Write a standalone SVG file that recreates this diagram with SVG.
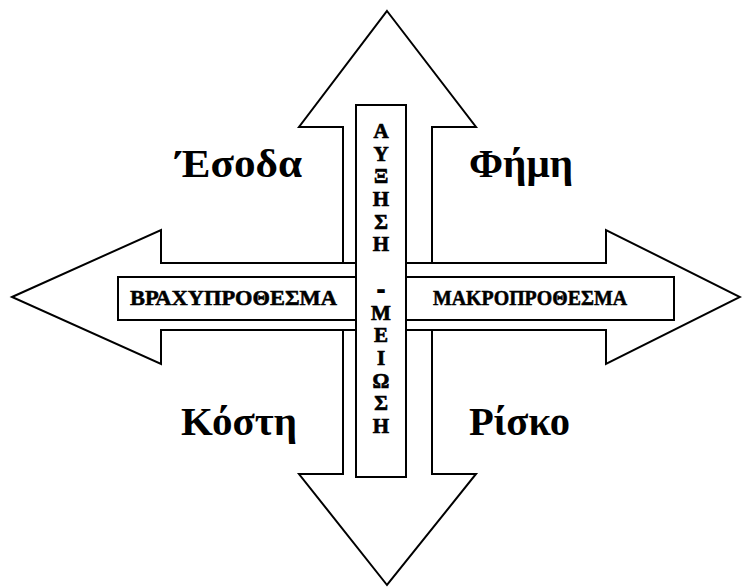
<svg xmlns="http://www.w3.org/2000/svg" width="742" height="587" viewBox="0 0 742 587">
<style>
.shape{fill:#fff;stroke:#000;stroke-width:2;stroke-linejoin:miter}
.big{font-family:"Liberation Serif","Times New Roman",serif;font-weight:bold;font-size:40px;fill:#000}
.small{font-family:"Liberation Serif","Times New Roman",serif;font-weight:bold;font-size:20px;fill:#000;stroke:#000;stroke-width:0.5}
.vert{font-family:"Liberation Serif","Times New Roman",serif;font-weight:bold;font-size:21px;fill:#000;stroke:#000;stroke-width:0.7;text-anchor:middle}
</style>
<rect width="742" height="587" fill="#fff"/>
<g id="connectors">
<polygon id="vertical-arrow" class="shape" points="387,11 476,127 432,127 432,474 476,474 387,585 299,474 343,474 343,127 299,127"/>
<polygon id="horizontal-arrow" class="shape" points="12,297 161,230 161,263 606,263 606,230 740,297 606,364 606,330 161,330 161,364"/>
</g>
<g id="node-short">
<rect class="shape" x="118" y="277" width="238" height="43"/>
<text class="small" x="130" y="305" textLength="207" lengthAdjust="spacingAndGlyphs">ΒΡΑΧΥΠΡΟΘΕΣΜΑ</text>
</g>
<g id="node-long">
<rect class="shape" x="406" y="277" width="268" height="43"/>
<text class="small" x="433" y="305" textLength="194" lengthAdjust="spacingAndGlyphs">ΜΑΚΡΟΠΡΟΘΕΣΜΑ</text>
</g>
<g id="node-vertical">
<rect class="shape" x="356" y="105" width="50" height="372"/>
<text class="vert" x="381" y="138">Α</text>
<text class="vert" x="381" y="161">Υ</text>
<text class="vert" x="381" y="183">Ξ</text>
<text class="vert" x="381" y="206">Η</text>
<text class="vert" x="381" y="229">Σ</text>
<text class="vert" x="381" y="251">Η</text>
<text class="vert" x="381" y="296" style="stroke-width:2">-</text>
<text class="vert" x="381" y="320">Μ</text>
<text class="vert" x="381" y="342">Ε</text>
<text class="vert" x="381" y="365">Ι</text>
<text class="vert" x="381" y="388">Ω</text>
<text class="vert" x="381" y="410">Σ</text>
<text class="vert" x="381" y="433">Η</text>
</g>
<g id="node-esoda"><text class="big" x="176" y="177" textLength="126" lengthAdjust="spacingAndGlyphs">Έσοδα</text></g>
<g id="node-fimi"><text class="big" x="469" y="177" textLength="104" lengthAdjust="spacingAndGlyphs">Φήμη</text></g>
<g id="node-kosti"><text class="big" x="181" y="435" textLength="116" lengthAdjust="spacingAndGlyphs">Κόστη</text></g>
<g id="node-risko"><text class="big" x="469" y="435" textLength="101" lengthAdjust="spacingAndGlyphs">Ρίσκο</text></g>
</svg>
